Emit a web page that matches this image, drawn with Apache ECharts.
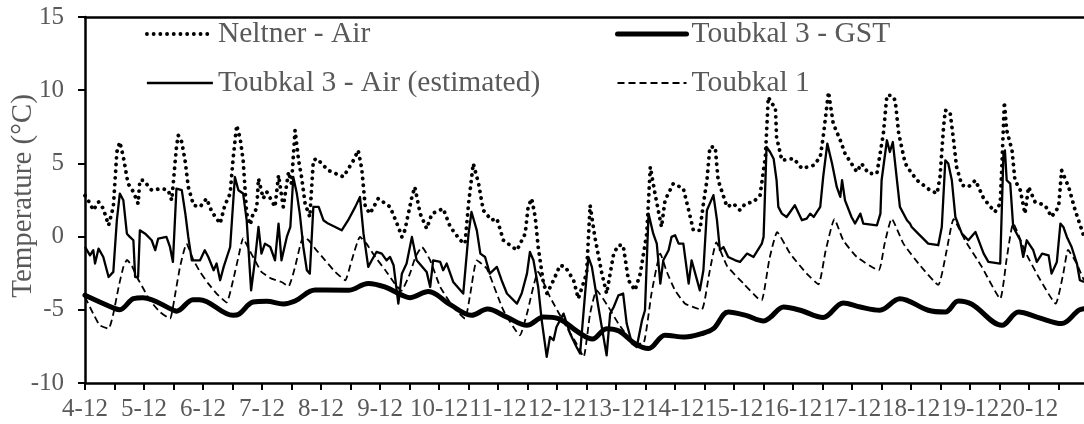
<!DOCTYPE html>
<html><head><meta charset="utf-8">
<script src="https://cdn.jsdelivr.net/npm/echarts@6/dist/echarts.min.js"></script>
<style>html,body{margin:0;padding:0;background:#fff}#c{width:1084px;height:424px}</style>
</head><body><div id="c"></div>
<script>
// x = days since 4-12 (0 = 4-12 00:00)
const dayLabels = ['4-12','5-12','6-12','7-12','8-12','9-12','10-12','11-12','12-12','13-12','14-12','15-12','16-12','17-12','18-12','19-12','20-12'];
const seriesNames = ['Neltner - Air','Toubkal 3 - GST','Toubkal 3 - Air (estimated)','Toubkal 1'];

const neltnerAir = [[0.0,2.8],[0.03,2.82],[0.08,2.3],[0.14,1.8],[0.23,2.37],[0.31,1.91],[0.4,0.77],[0.48,2.03],[0.54,5.78],[0.59,6.46],[0.65,5.44],[0.73,3.62],[0.82,3.06],[0.9,2.25],[0.93,3.85],[0.99,3.85],[1.13,3.17],[1.3,3.28],[1.41,3.17],[1.47,2.48],[1.55,6.12],[1.58,6.92],[1.64,6.46],[1.7,5.1],[1.75,3.39],[1.84,2.14],[1.95,2.03],[2.06,2.6],[2.15,1.69],[2.29,0.89],[2.37,2.14],[2.46,2.94],[2.51,5.33],[2.57,7.6],[2.63,6.69],[2.68,5.21],[2.74,1.57],[2.8,0.8],[2.85,1.6],[2.91,1.91],[2.94,3.96],[3.02,2.6],[3.08,3.06],[3.22,2.03],[3.28,4.19],[3.36,2.03],[3.45,4.42],[3.5,3.62],[3.56,7.26],[3.62,5.21],[3.67,4.08],[3.73,2.25],[3.81,1.34],[3.87,5.21],[3.93,5.33],[4.12,4.53],[4.38,4.08],[4.55,5.21],[4.63,5.89],[4.69,4.65],[4.75,2.03],[4.83,1.57],[4.97,2.6],[5.17,2.03],[5.31,0.66],[5.37,-0.02],[5.42,0.43],[5.54,2.71],[5.59,3.39],[5.68,1.57],[5.79,0.55],[5.88,1.57],[6.07,1.91],[6.19,0.66],[6.36,-0.25],[6.44,-0.48],[6.5,2.25],[6.58,4.99],[6.67,3.62],[6.75,1.8],[6.89,1.12],[6.98,1.23],[7.09,-0.25],[7.32,-0.93],[7.46,0.2],[7.51,2.03],[7.57,2.6],[7.63,1.34],[7.68,-0.71],[7.77,-3.21],[7.83,-3.89],[7.94,-2.98],[8.05,-1.96],[8.14,-2.07],[8.28,-2.98],[8.36,-4.24],[8.5,-2.53],[8.56,2.14],[8.64,-0.02],[8.76,-2.53],[8.84,-3.89],[8.96,-1.16],[9.04,-0.59],[9.12,-0.59],[9.21,-2.98],[9.32,-3.67],[9.41,-2.53],[9.52,0.2],[9.58,4.76],[9.66,2.94],[9.77,0.66],[9.83,2.48],[9.97,3.62],[10.14,3.28],[10.23,1.8],[10.31,0.43],[10.42,0.43],[10.48,2.25],[10.54,3.85],[10.59,6.12],[10.68,6.12],[10.73,3.85],[10.88,2.03],[10.99,2.25],[11.1,1.8],[11.19,2.25],[11.33,2.37],[11.44,2.82],[11.53,5.44],[11.58,9.53],[11.64,9.08],[11.7,8.85],[11.72,6.8],[11.81,5.21],[12.01,5.33],[12.15,4.65],[12.35,4.87],[12.46,5.44],[12.51,6.8],[12.6,9.88],[12.68,7.72],[12.8,6.58],[12.88,5.67],[13.08,4.42],[13.16,4.99],[13.28,4.31],[13.42,4.31],[13.53,7.04],[13.59,9.65],[13.67,9.65],[13.73,9.31],[13.79,7.04],[13.9,5.0],[13.98,4.5],[14.1,3.85],[14.32,3.17],[14.44,2.94],[14.49,4.08],[14.55,7.49],[14.58,8.63],[14.66,8.51],[14.72,6.58],[14.77,4.76],[14.86,3.51],[14.97,3.39],[15.09,3.85],[15.23,2.6],[15.42,1.68],[15.51,2.25],[15.54,4.99],[15.58,9.2],[15.62,7.26],[15.71,5.89],[15.76,3.85],[15.85,3.17],[15.93,1.57],[15.99,3.39],[16.1,2.37],[16.27,2.14],[16.38,1.34],[16.5,2.03],[16.55,4.53],[16.67,3.39],[16.78,1.8],[16.93,0.0]];

const toubkal3GST = [[0,-4.0],[0.51,-4.92],[0.59,-4.99],[0.82,-4.24],[0.98,-4.17],[1.5,-5.03],[1.55,-5.1],[1.83,-4.31],[1.94,-4.31],[2.51,-5.38],[2.61,-5.3],[2.85,-4.47],[3.08,-4.42],[3.36,-4.6],[3.56,-4.4],[3.9,-3.65],[4.46,-3.67],[4.8,-3.2],[5.08,-3.44],[5.37,-4.0],[5.5,-4.17],[5.82,-3.75],[6.19,-4.65],[6.55,-5.38],[6.82,-4.95],[7.15,-5.5],[7.49,-6.06],[7.77,-5.5],[8.02,-5.6],[8.35,-6.5],[8.6,-7.0],[8.84,-6.29],[9.05,-6.45],[9.32,-7.31],[9.55,-7.65],[9.83,-6.74],[10.17,-6.86],[10.45,-6.63],[10.65,-6.29],[10.9,-5.15],[11.2,-5.38],[11.5,-5.76],[11.61,-5.53],[11.84,-4.81],[12.12,-5.03],[12.51,-5.53],[12.85,-4.53],[13.14,-4.81],[13.47,-5.03],[13.81,-4.24],[14.29,-5.03],[14.58,-5.15],[14.8,-4.4],[15.03,-4.62],[15.54,-6.06],[15.82,-5.15],[16.16,-5.53],[16.55,-5.94],[16.84,-5.03],[16.93,-4.92]];

const toubkal3Air = [[0.0,-0.7],[0.03,-0.82],[0.085,-1.28],[0.14,-0.93],[0.17,-1.84],[0.23,-0.82],[0.31,-1.39],[0.4,-2.76],[0.48,-2.41],[0.54,1.12],[0.59,2.94],[0.65,2.48],[0.71,0.2],[0.76,-0.02],[0.82,-0.25],[0.85,-2.76],[0.9,-2.76],[0.93,0.43],[1.02,0.2],[1.13,-0.25],[1.19,-0.93],[1.24,-0.14],[1.38,-0.02],[1.44,-0.71],[1.49,-1.73],[1.55,3.28],[1.64,3.17],[1.7,1.58],[1.75,-0.02],[1.81,-1.62],[1.95,-1.62],[2.03,-0.93],[2.09,-1.39],[2.18,-2.3],[2.23,-1.84],[2.29,-2.98],[2.35,-2.07],[2.46,-0.71],[2.54,4.07],[2.6,3.17],[2.68,2.94],[2.74,1.12],[2.815,-3.67],[2.88,-1.62],[2.94,0.66],[2.99,-1.16],[3.05,-0.48],[3.14,-0.71],[3.22,-1.62],[3.28,0.89],[3.33,-1.62],[3.42,-0.02],[3.48,0.66],[3.53,4.07],[3.59,2.94],[3.64,1.57],[3.7,-0.71],[3.76,-2.3],[3.81,-2.53],[3.87,2.03],[3.96,2.03],[4.04,1.12],[4.12,0.89],[4.24,0.66],[4.35,0.43],[4.46,1.12],[4.58,2.03],[4.66,2.71],[4.72,0.2],[4.8,-2.07],[4.86,-1.62],[4.94,-1.05],[5.03,-1.16],[5.11,-1.62],[5.17,-1.39],[5.23,-1.96],[5.31,-4.58],[5.37,-2.53],[5.45,-1.84],[5.54,-0.02],[5.565,0.09],[5.62,-1.62],[5.79,-2.41],[5.85,-3.44],[5.9,-1.62],[6.02,-1.73],[6.07,-2.3],[6.13,-1.84],[6.24,-3.1],[6.41,-3.89],[6.5,0.2],[6.55,1.68],[6.64,0.43],[6.7,-1.16],[6.78,-1.39],[6.86,-2.53],[6.98,-2.07],[7.06,-2.98],[7.15,-3.89],[7.32,-4.58],[7.4,-3.89],[7.49,-2.53],[7.54,-1.05],[7.6,-1.62],[7.68,-3.44],[7.74,-5.72],[7.825,-8.22],[7.88,-6.85],[7.94,-7.08],[7.99,-6.17],[8.11,-5.26],[8.22,-6.62],[8.33,-7.54],[8.39,-7.99],[8.475,-3.89],[8.53,-1.39],[8.59,-2.07],[8.7,-4.81],[8.84,-8.11],[8.9,-5.26],[8.96,-4.81],[9.04,-4.01],[9.12,-3.89],[9.18,-5.94],[9.27,-7.31],[9.35,-7.54],[9.44,-5.72],[9.49,-5.03],[9.55,1.57],[9.63,0.2],[9.69,-0.48],[9.75,-3.21],[9.8,-1.62],[9.89,-0.93],[9.94,-0.02],[10.0,0.09],[10.06,-0.48],[10.14,-0.48],[10.23,-3.21],[10.28,-1.62],[10.42,-3.67],[10.48,-2.3],[10.54,1.8],[10.65,2.83],[10.71,1.12],[10.76,-0.93],[10.82,-0.71],[10.9,-1.39],[11.02,-1.62],[11.1,-1.73],[11.22,-1.16],[11.33,-1.39],[11.47,-0.48],[11.5,-0.02],[11.55,6.12],[11.61,5.78],[11.67,5.32],[11.72,3.85],[11.75,2.03],[11.81,1.57],[11.89,1.34],[12.03,2.14],[12.15,1.12],[12.23,1.23],[12.29,1.57],[12.35,1.34],[12.46,2.03],[12.51,4.08],[12.58,6.35],[12.66,4.99],[12.74,3.39],[12.8,2.71],[12.83,3.85],[12.88,2.48],[12.99,1.34],[13.05,0.89],[13.14,1.57],[13.19,0.89],[13.42,0.77],[13.48,1.57],[13.5,3.85],[13.59,6.58],[13.64,5.78],[13.69,6.46],[13.76,3.85],[13.81,2.03],[13.93,1.12],[13.98,0.89],[14.01,0.66],[14.12,0.2],[14.29,-0.48],[14.46,-0.59],[14.52,0.66],[14.58,5.21],[14.63,4.99],[14.69,3.85],[14.75,1.34],[14.86,0.2],[14.97,-0.25],[15.09,0.32],[15.23,-1.16],[15.31,-1.73],[15.51,-1.84],[15.565,5.67],[15.59,5.89],[15.62,3.85],[15.68,3.62],[15.73,0.66],[15.85,-0.25],[15.9,-1.39],[15.96,-0.25],[16.07,-0.93],[16.13,-1.73],[16.22,-1.16],[16.33,-1.28],[16.38,-2.53],[16.47,-1.73],[16.53,0.89],[16.58,0.66],[16.64,-0.02],[16.72,-0.71],[16.81,-1.84],[16.86,-2.98],[16.93,-3.1]];

const toubkal1 = [[0,-4.13],[0.14,-5.27],[0.25,-6.06],[0.4,-6.29],[0.48,-5.27],[0.57,-3.44],[0.65,-2.07],[0.71,-1.6],[0.79,-1.96],[0.88,-2.76],[0.99,-3.56],[1.1,-4.35],[1.27,-5.15],[1.44,-5.6],[1.53,-3.89],[1.61,-2.07],[1.72,-0.48],[1.84,-1.62],[1.95,-2.41],[2.09,-3.21],[2.23,-3.89],[2.4,-4.5],[2.51,-2.98],[2.6,-1.39],[2.68,-0.1],[2.77,-0.8],[2.88,-1.62],[2.99,-2.41],[3.16,-2.87],[3.33,-3.1],[3.45,-3.39],[3.56,-2.07],[3.64,-0.71],[3.7,-0.02],[3.79,-0.25],[3.9,-0.82],[4.07,-1.62],[4.24,-2.41],[4.41,-2.98],[4.52,-1.62],[4.66,-0.02],[4.77,-0.48],[4.92,-1.39],[5.09,-2.3],[5.25,-3.21],[5.36,-3.7],[5.5,-2.6],[5.6,-1.4],[5.71,-0.71],[5.85,-1.62],[6.02,-3.44],[6.24,-4.81],[6.44,-5.6],[6.53,-3.89],[6.64,-1.62],[6.81,-2.19],[7.09,-5.03],[7.37,-6.74],[7.49,-5.26],[7.68,-2.41],[7.88,-4.12],[8.16,-6.17],[8.33,-7.31],[8.45,-8.22],[8.56,-5.26],[8.67,-3.67],[8.87,-4.81],[9.04,-5.94],[9.32,-7.31],[9.46,-7.31],[9.6,-3.89],[9.75,-1.16],[9.86,-2.41],[10.0,-3.67],[10.17,-4.58],[10.45,-5.0],[10.58,-2.5],[10.7,-0.4],[10.88,-2.0],[11.16,-3.21],[11.41,-4.24],[11.47,-4.35],[11.6,-1.5],[11.73,0.3],[11.95,-1.16],[12.23,-2.53],[12.43,-3.26],[12.55,-1.0],[12.7,1.2],[12.85,-0.25],[13.08,-1.39],[13.45,-2.3],[13.55,-0.5],[13.67,1.23],[13.87,-0.48],[14.15,-1.96],[14.46,-3.3],[14.6,-1.0],[14.72,1.2],[14.92,-0.3],[15.2,-2.08],[15.51,-4.24],[15.62,-1.5],[15.73,0.9],[15.93,-1.0],[16.16,-2.76],[16.45,-4.58],[16.58,-2.5],[16.66,-0.9],[16.8,-1.8],[16.93,-3.0]];

const FONT = '"Liberation Serif", "Times New Roman", serif';
const TXT = '#595959';
const X_MIN = 0, X_MAX = 16.93;

const chart = echarts.init(document.getElementById('c'), null, {renderer: 'canvas'});
const lineStyles = {
  'Neltner - Air': {color: '#000', width: 3.8, type: [0.1, 6.6], cap: 'round', join: 'round'},
  'Toubkal 3 - GST': {color: '#000', width: 5, type: 'solid', cap: 'round', join: 'round'},
  'Toubkal 3 - Air (estimated)': {color: '#000', width: 2.3, type: 'solid', join: 'round'},
  'Toubkal 1': {color: '#000', width: 1.8, type: [7, 4], join: 'round'}
};
const dataMap = {
  'Neltner - Air': neltnerAir,
  'Toubkal 3 - GST': toubkal3GST,
  'Toubkal 3 - Air (estimated)': toubkal3Air,
  'Toubkal 1': toubkal1
};
const hiddenSymbol = {color: 'rgba(0,0,0,0)', borderWidth: 0, opacity: 0};
const legendBase = {
  orient: 'vertical', itemHeight: 14, itemGap: 19, padding: 0,
  textStyle: {fontFamily: FONT, fontSize: 29.5, color: TXT, lineHeight: 30},
  selectedMode: false
};
const option = {
  animation: false,
  backgroundColor: '#fff',
  grid: {left: 85, right: 0, top: 17, bottom: 41, containLabel: false, outerBoundsMode: 'none'},
  legend: [
    Object.assign({}, legendBase, {left: 145, top: 19, itemWidth: 66,
      data: ['Neltner - Air', 'Toubkal 3 - Air (estimated)'].map(n => ({name: n, itemStyle: hiddenSymbol, lineStyle: lineStyles[n]}))}),
    Object.assign({}, legendBase, {left: 615, top: 19, itemWidth: 69,
      data: ['Toubkal 3 - GST', 'Toubkal 1'].map(n => ({name: n, itemStyle: hiddenSymbol, lineStyle: lineStyles[n]}))})
  ],
  xAxis: [{
    type: 'value', min: X_MIN, max: X_MAX, interval: 0.5,
    axisLine: {show: true, onZero: false, lineStyle: {color: '#000', width: 2.5}},
    axisTick: {show: true, length: 7, lineStyle: {color: '#000', width: 2}},
    splitLine: {show: false},
    axisLabel: {
      formatter: v => (Math.abs(v - Math.round(v)) < 1e-6 && dayLabels[Math.round(v)]) ? dayLabels[Math.round(v)] : '',
      fontFamily: FONT, fontSize: 25, color: TXT, margin: 14, showMaxLabel: false, hideOverlap: false
    }
  }, {
    type: 'value', position: 'top', min: X_MIN, max: X_MAX,
    axisLine: {show: true, onZero: false, lineStyle: {color: '#000', width: 2.5}},
    axisTick: {show: false}, axisLabel: {show: false}, splitLine: {show: false}
  }],
  yAxis: {
    type: 'value', min: -10, max: 15, interval: 5,
    name: 'Temperature (°C)', nameLocation: 'middle', nameGap: 47, nameMoveOverlap: false,
    nameTextStyle: {fontFamily: FONT, fontSize: 29, color: TXT, padding: [0, 0, 0, 8]},
    axisLine: {show: true, onZero: false, lineStyle: {color: '#000', width: 2.5}},
    axisTick: {show: true, length: 7, lineStyle: {color: '#000', width: 2}},
    splitLine: {show: false},
    axisLabel: {fontFamily: FONT, fontSize: 25, color: TXT, margin: 21}
  },
  series: seriesNames.map(n => ({
    name: n, type: 'line', data: dataMap[n], symbol: 'none', showSymbol: false,
    lineStyle: lineStyles[n], itemStyle: {color: '#000'},
    smooth: n === 'Toubkal 3 - GST' ? 0.35 : (n === 'Toubkal 1' ? 0.15 : false),
    z: n === 'Toubkal 3 - GST' ? 3 : 2
  }))
};
chart.setOption(option);
</script></body></html>
